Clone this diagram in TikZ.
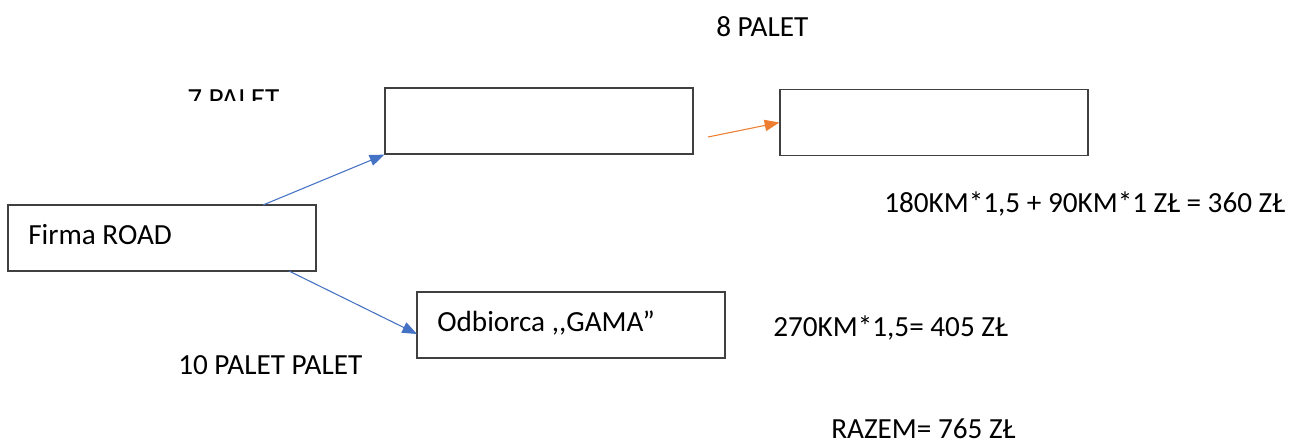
\documentclass[tikz,border=0pt]{standalone}
\usepackage{fontspec}
\setmainfont{Carlito}
\usetikzlibrary{arrows.meta}
\definecolor{arrblue}{HTML}{4472C4}
\definecolor{arrorange}{HTML}{ED7D31}
\definecolor{boxline}{HTML}{404040}
\tikzset{
  box/.style={draw=boxline, line width=1pt, rectangle, inner sep=0pt, minimum width=231pt, minimum height=49.5pt},
  txt/.style={inner sep=0pt, anchor=base west, font=\fontsize{21.9}{26}\selectfont},
  bluearr/.style={draw=arrblue, line width=0.8pt, -{Triangle[length=11pt,width=8.5pt]}, arrblue},
  orangearr/.style={draw=arrorange, line width=0.8pt, -{Triangle[length=11pt,width=8.5pt]}, arrorange},
}
\begin{document}
\begin{tikzpicture}[x=0.75pt,y=-0.75pt]
\useasboundingbox (0,0) rectangle (1301,443);
% boxes
\node[box] (boxa) at (539,121) {};
\node[box] (boxb) at (934,122.5) {};
\node[box] (firma) at (162,238) {};
\node[box] (odb) at (571,325) {};
% texts
\node[txt] (tfirma) at (28,244) {Firma ROAD};
\node[txt] (todb) at (437,331) {Odbiorca ,{},GAMA”};
\node[txt] (t8) at (716,36) {8 PALET};
\begin{scope}
\clip (150,80) rectangle (330,100);
\node[txt] (t7) at (187,108) {7 PALET};
\end{scope}
\node[txt] (tcalc1) at (884,212) {180KM*1,5 + 90KM*1 ZŁ = 360 ZŁ};
\node[txt] (tcalc2) at (773,336) {270KM*1,5= 405 ZŁ};
\node[txt] (t10) at (178,374) {10 PALET PALET};
\node[txt] (traz) at (831,438) {RAZEM= 765 ZŁ};
% connectors
\coordinate (s1) at (263,205);
\coordinate (s2) at (289,271);
\coordinate (e2) at (417,334);
\coordinate (s3) at (708,137);
\draw[bluearr] (s1) -- (boxa.south west);
\draw[bluearr] (s2) -- (e2);
\draw[orangearr] (s3) -- (boxb.west);
\end{tikzpicture}
\end{document}
